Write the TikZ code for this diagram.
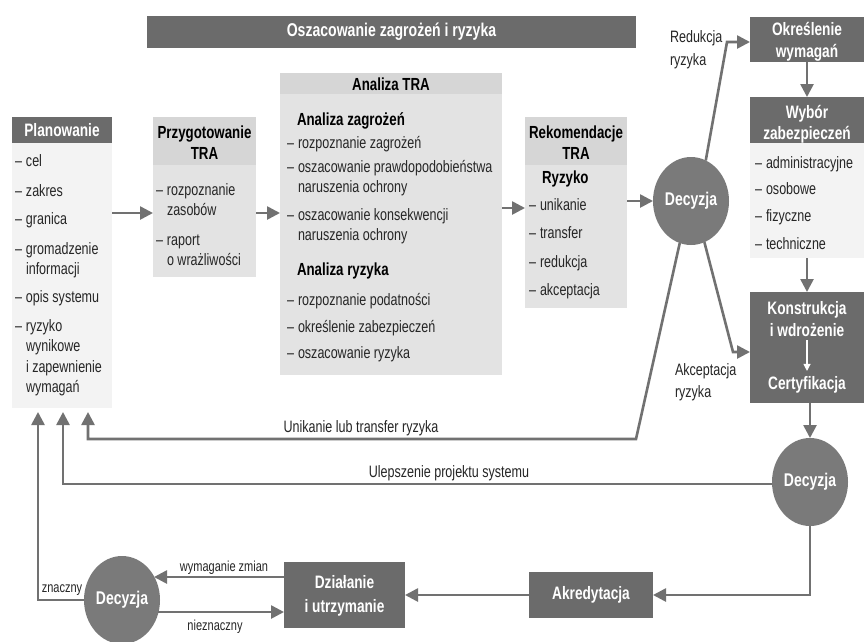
\documentclass[tikz,border=0pt]{standalone}
\usepackage{fontspec}
\setmainfont{Liberation Sans}[FakeStretch=0.76]
\usetikzlibrary{arrows.meta,shapes.geometric}
\definecolor{dk}{HTML}{6B6B6B}
\definecolor{ar}{HTML}{717171}
\definecolor{ci}{HTML}{7A7A7A}
\definecolor{lh}{HTML}{D6D6D6}
\definecolor{lb}{HTML}{E3E3E3}
\definecolor{vl}{HTML}{F3F3F3}
\definecolor{tx}{HTML}{262626}
\newcommand\mydash{\makebox[11pt][l]{–}}
\newcommand\myind{\hspace*{11pt}}
\begin{document}
\begin{tikzpicture}[x=1pt,y=-1pt,
 every node/.style={inner sep=0pt, outer sep=0pt},
 body/.style={anchor=base west, font=\fontsize{16.5}{20}\selectfont, text=tx},
 ttl/.style={anchor=base, font=\bfseries\fontsize{17.5}{20}\selectfont, text=black},
 wttl/.style={anchor=base, font=\bfseries\fontsize{18}{20}\selectfont, text=white},
 lbl/.style={anchor=base west, font=\fontsize{16.5}{20}\selectfont, text=tx},
 lblc/.style={anchor=base, font=\fontsize{16.5}{20}\selectfont, text=tx},
 small/.style={anchor=base, font=\fontsize{14.5}{15}\selectfont, text=tx},
 dec/.style={ellipse, fill=ci, minimum width=76pt, minimum height=88pt, text=white, font=\bfseries\fontsize{18.4}{20}\selectfont},
 arr/.style={draw=ar, line width=2.6pt, line join=miter, -{Triangle[length=13pt,width=13pt]}},
 dbox/.style={fill=dk},
 hbox/.style={fill=lh},
 bbox/.style={fill=lb},
 vbox/.style={fill=vl}
]
\useasboundingbox (0,0) rectangle (864,641);
\fill[white] (0,0) rectangle (864,641);

% title bar
\node[dbox, minimum width=489pt, minimum height=32pt, text=white, font=\bfseries\fontsize{18.5}{20}\selectfont] (title) at (391.5,32) {Oszacowanie zagrożeń i ryzyka};

% Planowanie
\node[dbox, minimum width=100pt, minimum height=26pt] (plhead) at (62,130) {};
\node[wttl] (plt) at (62,136) {Planowanie};
\node[vbox, minimum width=100pt, minimum height=265pt] (plbody) at (62,275.5) {};
\foreach \t/\y [count=\i] in {\mydash cel/166, \mydash zakres/196, \mydash granica/224, \mydash gromadzenie/254, \myind informacji/274, \mydash opis systemu/302, \mydash ryzyko/331, \myind wynikowe/351, \myind i zapewnienie/372, \myind wymagań/392}
  \node[body, name=pl\i] at (15,\y) {\t};

% Przygotowanie TRA
\node[hbox, minimum width=103pt, minimum height=48pt] (przhead) at (204.5,141) {};
\node[bbox, minimum width=103pt, minimum height=112pt] (przbody) at (204.5,221) {};
\node[ttl] (prz1) at (204.5,138) {Przygotowanie};
\node[ttl] (prz2) at (204.5,159) {TRA};
\foreach \t/\y [count=\i] in {\mydash rozpoznanie/195, \myind zasobów/215, \mydash raport/245, \myind o wrażliwości/265}
  \node[body, name=pr\i] at (156,\y) {\t};

% Analiza TRA
\node[hbox, minimum width=222pt, minimum height=21pt] (anahead) at (391,83.5) {};
\node[bbox, minimum width=222pt, minimum height=281pt] (anabody) at (391,234.5) {};
\node[ttl] (anat) at (391,90) {Analiza TRA};
\node[ttl, anchor=base west] (anaz) at (297,125) {Analiza zagrożeń};
\node[ttl, anchor=base west] (anar) at (297,275) {Analiza ryzyka};
\foreach \t/\y [count=\i] in {\mydash rozpoznanie zagrożeń/148, \mydash oszacowanie prawdopodobieństwa/172, \myind naruszenia ochrony/192, \mydash oszacowanie konsekwencji/220, \myind naruszenia ochrony/240, \mydash rozpoznanie podatności/305, \mydash określenie zabezpieczeń/332, \mydash oszacowanie ryzyka/358}
  \node[body, name=an\i] at (287,\y) {\t};

% Rekomendacje TRA
\node[hbox, minimum width=102pt, minimum height=48pt] (rekhead) at (576,141) {};
\node[bbox, minimum width=102pt, minimum height=143pt] (rekbody) at (576,236.5) {};
\node[ttl] (rek1) at (576,138) {Rekomendacje};
\node[ttl] (rek2) at (576,159) {TRA};
\node[ttl, anchor=base west] (reky) at (542,183) {Ryzyko};
\foreach \t/\y [count=\i] in {\mydash unikanie/210, \mydash transfer/238, \mydash redukcja/267, \mydash akceptacja/295}
  \node[body, name=rk\i] at (529,\y) {\t};

% right column
\node[dbox, minimum width=114pt, minimum height=45pt] (okr) at (807,39.5) {};
\node[wttl] (okr1) at (807,35) {Określenie};
\node[wttl] (okr2) at (807,57) {wymagań};
\node[dbox, minimum width=114pt, minimum height=46pt] (wybhead) at (807,120) {};
\node[wttl] (wyb1) at (807,118) {Wybór};
\node[wttl] (wyb2) at (807,139) {zabezpieczeń};
\node[vbox, minimum width=114pt, minimum height=115pt] (wybbody) at (807,200.5) {};
\foreach \t/\y [count=\i] in {\mydash administracyjne/168, \mydash osobowe/194, \mydash fizyczne/221, \mydash techniczne/249}
  \node[body, name=wb\i] at (755,\y) {\t};
\node[dbox, minimum width=114pt, minimum height=111pt] (kon) at (807,347.5) {};
\node[wttl] (kon1) at (807,314) {Konstrukcja};
\node[wttl] (kon2) at (807,336) {i wdrożenie};
\node[wttl] (kon3) at (807,389) {Certyfikacja};
\draw[draw=white, line width=1.1pt, -{Triangle[length=7pt,width=7pt]}, shorten <=4pt, shorten >=5pt] (kon2.south) -- (kon3.north);

% bottom boxes
\node[dbox, minimum width=124pt, minimum height=46pt, text=white, font=\bfseries\fontsize{18}{20}\selectfont] (akr) at (591,595) {Akredytacja};
\node[dbox, minimum width=121pt, minimum height=66pt] (dzi) at (344.5,595) {};
\node[wttl] (dzi1) at (344.5,588) {Działanie};
\node[wttl] (dzi2) at (344.5,612) {i utrzymanie};

% decisions
\node[dec] (dec1) at (691,201) {Decyzja};
\node[dec] (dec2) at (810,482) {Decyzja};
\node[dec] (dec3) at (122,600) {Decyzja};

% connectors
\draw[arr] (plbody.east |- 0,213) -- (przbody.west |- 0,213);
\draw[arr] (przbody.east |- 0,213) -- (anabody.west |- 0,213);
\draw[arr] (anabody.east |- 0,208) -- (rekbody.west |- 0,208);
\draw[arr] (rekbody.east |- dec1.west) -- (dec1.west);

\coordinate (r1) at (727,42);
\draw[arr] (dec1.70) -- (r1) -- (okr.west |- r1);
\coordinate (a1) at (733,352);
\draw[arr] (dec1.-72) -- (a1) -- (kon.west |- a1);
\coordinate (u1) at (636,439);
\coordinate (u2) at (88,439);
\draw[arr, shorten >=4pt] (dec1.-105) -- (u1) -- (u2) -- (u2 |- plbody.south);

\draw[arr] (okr.south) -- (wybhead.north);
\draw[arr] (wybbody.south) -- (kon.north);
\draw[arr] (kon.south -| dec2.north) -- (dec2.north);

\coordinate (b2) at (63,484);
\draw[arr, shorten >=4pt] (dec2.west |- b2) -- (b2) -- (b2 |- plbody.south);
\coordinate (d2) at (810,595);
\draw[arr] (dec2.south) -- (d2) -- (akr.east);
\draw[arr] (akr.west) -- (dzi.east |- akr.west);

\coordinate (w1) at (154,577);
\draw[arr] (dzi.west |- w1) -- (w1);
\coordinate (n1) at (158,612);
\draw[arr] (n1) -- (dzi.west |- n1);
\coordinate (z1) at (38,600);
\draw[arr, shorten >=4pt] (dec3.west) -- (z1) -- (z1 |- plbody.south);

% labels
\node[lbl] (lred1) at (670,42) {Redukcja};
\node[lbl] (lred2) at (670,65) {ryzyka};
\node[lbl] (lakc1) at (675,375) {Akceptacja};
\node[lbl] (lakc2) at (675,397) {ryzyka};
\node[lblc] (luni) at (361,432) {Unikanie lub transfer ryzyka};
\node[lblc] (lule) at (449,477) {Ulepszenie projektu systemu};
\node[small] (lwym) at (224,571) {wymaganie zmian};
\node[small] (lnie) at (215,630) {nieznaczny};
\node[small] (lzna) at (62,592) {znaczny};
\end{tikzpicture}
\end{document}
